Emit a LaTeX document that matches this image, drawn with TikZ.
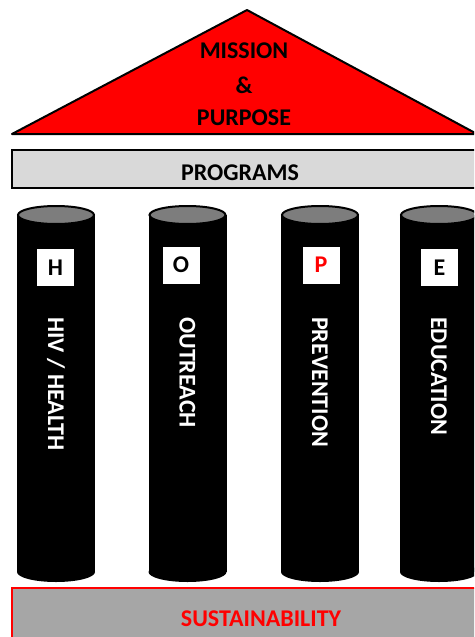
\documentclass[tikz,border=0pt]{standalone}
\usepackage{fontspec}
\setmainfont{Carlito}
\usepackage{tikz}
\definecolor{capgray}{RGB}{125,125,125}
\definecolor{progray}{RGB}{217,217,217}
\definecolor{sustgray}{RGB}{166,166,166}
\tikzset{
  label/.style={font=\fontsize{24}{28}\selectfont\bfseries, inner sep=0pt},
  letterbox/.style={label, fill=white, minimum size=37pt},
  pillartext/.style={label, text=white, rotate=-90, anchor=west}
}

\begin{document}
\begin{tikzpicture}[x=1pt,y=-1pt]
  \useasboundingbox (0,0) rectangle (474,637);
  \clip (0,0) rectangle (474,637);
  % roof
  \draw[line width=2pt, line join=round, fill=red] (12,134) -- (247,10) -- (477,134) -- cycle;
  \node[label] (mission) at (244,51) {MISSION};
  \node[label] (amp) at (244,85) {\&};
  \node[label] (purpose) at (244,118) {PURPOSE};
  % beam
  \draw[line width=2pt, fill=progray] (12,150) rectangle (490,188);
  \node[label] (programs) at (240,172.5) {PROGRAMS};
  % pillars
  \foreach \cx/\bx/\by/\ltr/\lcol/\txt/\n in {56/55.5/267.5/H/black/{HIV / HEALTH}/hiv,
      187.5/181/265/O/black/OUTREACH/outreach,
      320/321/265/P/red/PREVENTION/prevention,
      439/439.5/267.5/E/black/EDUCATION/education} {
    \fill[black] (\cx-39,215) rectangle (\cx+39,572);
    \fill[black] (\cx,572) ellipse [x radius=39, y radius=10];
    \draw[line width=2pt, fill=capgray] (\cx,215) ellipse [x radius=38, y radius=9];
    \node[letterbox, text=\lcol] (\n box) at (\bx,\by) {\ltr};
    \node[pillartext] (\n) at (\cx,317) {\txt};
  }
  % base
  \draw[red, line width=2pt, fill=sustgray] (12,588) rectangle (490,660);
  \node[label, text=red] (sustainability) at (261,618.5) {SUSTAINABILITY};
\end{tikzpicture}
\end{document}
